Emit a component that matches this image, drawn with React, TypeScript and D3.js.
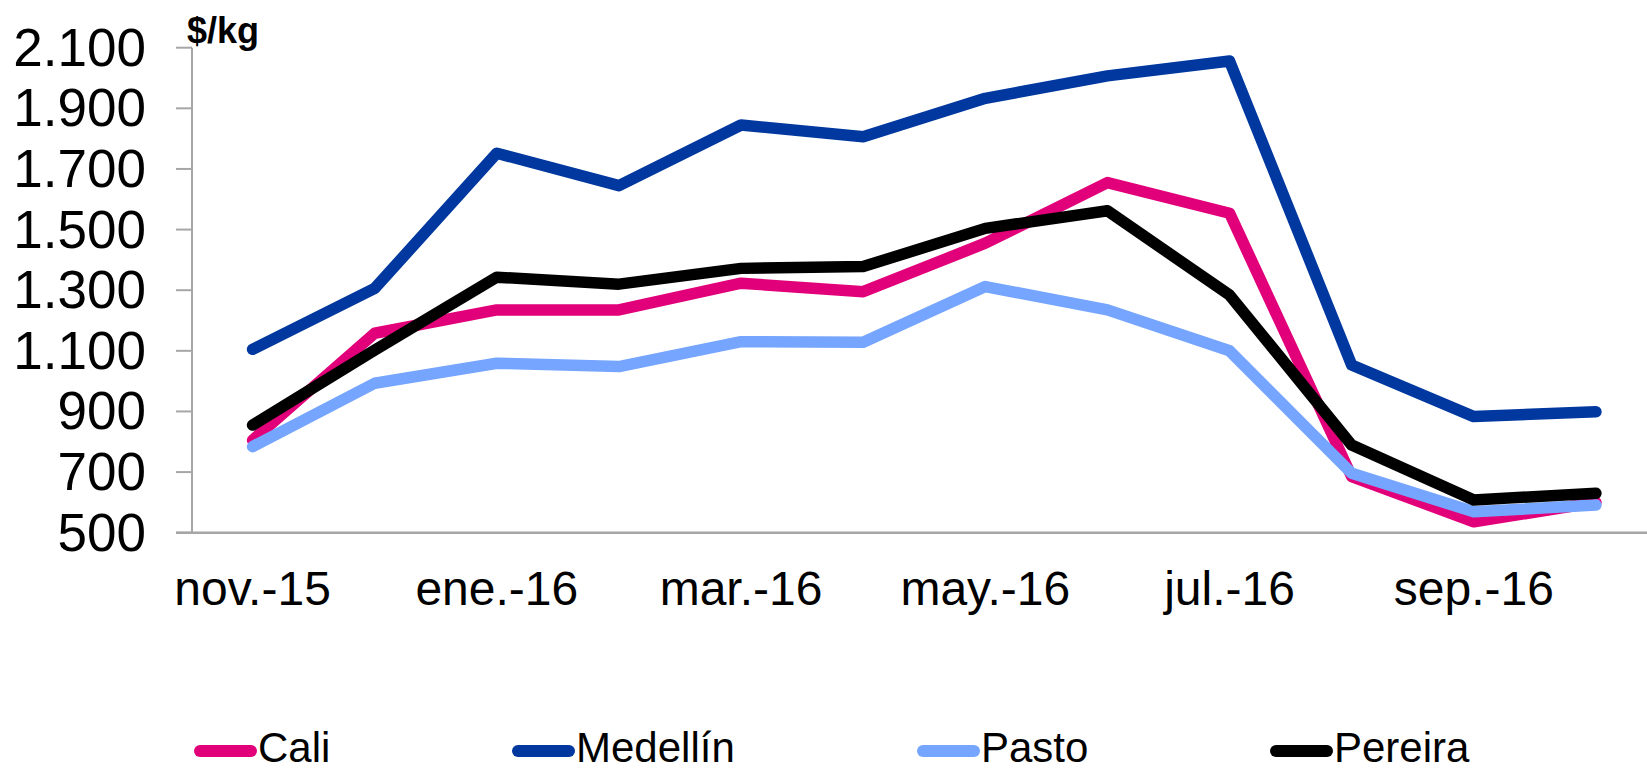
import React from "react";
import * as d3 from "d3";

const months = ["nov.-15", "dic.-15", "ene.-16", "feb.-16", "mar.-16", "abr.-16", "may.-16", "jun.-16", "jul.-16", "ago.-16", "sep.-16", "oct.-16"];
const tickLabels = ["nov.-15", "ene.-16", "mar.-16", "may.-16", "jul.-16", "sep.-16"];
const yTicks = [500, 700, 900, 1100, 1300, 1500, 1700, 1900, 2100];

const cali = [805, 1158, 1235, 1235, 1323, 1295, 1455, 1655, 1554, 685, 536, 600];
const medellin = [1105, 1306, 1752, 1645, 1845, 1806, 1933, 2007, 2056, 1053, 883, 899];
const pasto = [784, 993, 1059, 1048, 1130, 1128, 1312, 1235, 1100, 696, 569, 591];
const pereira = [855, 1102, 1343, 1320, 1372, 1378, 1504, 1562, 1284, 789, 608, 630];

const seriesNames = ["Cali", "Medellín", "Pasto", "Pereira"];
const seriesColors = ["#E2007A", "#0038A0", "#75A5FF", "#000000"];
const seriesValues = [cali, medellin, pasto, pereira];
const legendX = [194, 512, 917, 1270];

const W = 1647;
const H = 770;
const FONT = "'Liberation Sans', Arial, Helvetica, sans-serif";

export default function App() {
  const x = d3.scaleBand<string>().domain(months).range([191.5, 1657]).padding(0);
  const cx = (m: string) => (x(m) as number) + x.bandwidth() / 2;
  const y = d3.scaleLinear().domain([500, 2100]).range([532.7, 47.7]);
  const line = d3
    .line<number>()
    .x((_, i) => cx(months[i]))
    .y((d) => y(d));
  const axisColor = "#a6a6a6";
  const axisX = 192;

  return (
    <div style={{ position: "fixed", left: 0, top: 0, width: W, height: H, background: "#fff" }}>
      <svg width={W} height={H} style={{ display: "block" }} fontFamily={FONT}>
        <rect x={0} y={0} width={W} height={H} fill="#fff" />
        {/* y axis */}
        <line x1={axisX} x2={axisX} y1={y(2100)} y2={y(500)} stroke={axisColor} strokeWidth={2} />
        {yTicks.map((t) => (
          <g key={t}>
            <line x1={176} x2={axisX} y1={y(t)} y2={y(t)} stroke={axisColor} strokeWidth={2} />
            <text x={146} y={y(t)} dy="0.34em" textAnchor="end" fontSize={53} fill="#000">
              {d3.format(",")(t).replace(",", ".")}
            </text>
          </g>
        ))}
        <text x={187} y={43} fontSize={36} fontWeight="bold" fill="#000">
          $/kg
        </text>
        {/* x axis */}
        <line x1={176} x2={W} y1={y(500)} y2={y(500)} stroke={axisColor} strokeWidth={2.5} />
        {tickLabels.map((m) => (
          <text key={m} x={cx(m)} y={605} textAnchor="middle" fontSize={48} fill="#000">
            {m}
          </text>
        ))}
        {/* lines */}
        {seriesValues.map((vals, si) => (
          <path
            key={seriesNames[si]}
            d={line(vals) || ""}
            fill="none"
            stroke={seriesColors[si]}
            strokeWidth={11.5}
            strokeLinejoin="round"
            strokeLinecap="round"
          />
        ))}
        {/* legend */}
        {seriesNames.map((n, i) => (
          <g key={n}>
            <line
              x1={legendX[i] + 6}
              x2={legendX[i] + 57}
              y1={751}
              y2={751}
              stroke={seriesColors[i]}
              strokeWidth={12}
              strokeLinecap="round"
            />
            <text x={legendX[i] + 64} y={762} fontSize={42} fill="#000">
              {n}
            </text>
          </g>
        ))}
      </svg>
    </div>
  );
}
